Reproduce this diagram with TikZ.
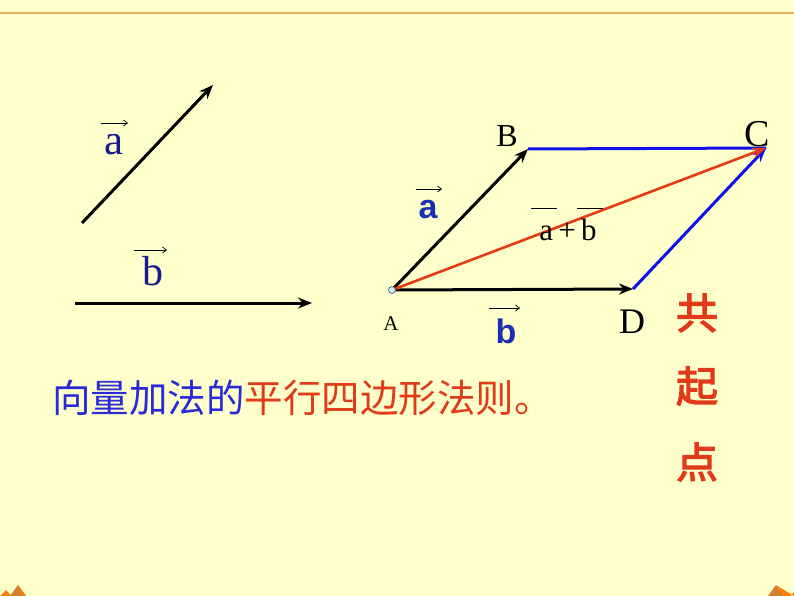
\documentclass[tikz,border=0pt]{standalone}
\usepackage{fontspec}
\setmainfont{Liberation Serif}
\newfontfamily\sansb{Liberation Sans}
\newfontfamily\cjk{Noto Sans CJK SC}
\newfontfamily\cjkb[FakeBold=3]{Noto Sans CJK SC}
\usetikzlibrary{arrows.meta}
\definecolor{bg}{HTML}{FFFFCC}
\definecolor{topline}{HTML}{F0B060}
\definecolor{vblue}{HTML}{1A1A90}
\definecolor{bblue}{HTML}{1830B0}
\definecolor{lblue}{HTML}{1010E8}
\definecolor{vred}{HTML}{E83A10}
\definecolor{tblue}{HTML}{2A2AD8}
\definecolor{tred}{HTML}{E03A18}
\begin{document}
\begin{tikzpicture}[x=1pt,y=-1pt,
  vec/.style={line width=3pt,-{Stealth[length=14pt,width=11pt]}},
  over/.style={line width=0.7pt,-{Straight Barb[length=4pt,width=6pt]}},
  lbl/.style={inner sep=0pt,anchor=base}]
\useasboundingbox (0,0) rectangle (794,596);
\fill[bg] (0,0) rectangle (794,596);
\draw[topline,line width=2pt] (0,13) -- (794,13);
% bottom corner ornaments
\fill[orange!80!brown] (0,596) -- (6,590) -- (12,596) -- cycle;
\fill[brown!70!orange] (10,596) -- (18,585) -- (26,596) -- cycle;
\fill[orange] (18,585) -- (26,596) -- (22,596) -- cycle;
\fill[brown!70!orange] (768,596) -- (776,585) -- (784,596) -- cycle;
\fill[orange] (776,585) -- (784,596) -- (790,596) -- (794,592) -- (794,596) -- cycle;

% left free vectors
\coordinate (a0) at (82,223); \coordinate (a1) at (213,85);
\coordinate (b0) at (75,303); \coordinate (b1) at (312,303);
\draw[vec] (a0) -- (a1);
\draw[vec] (b0) -- (b1);
\node[lbl,text=vblue,font=\fontsize{43}{45}\selectfont] (la) at (114,154) {a};
\coordinate (la0) at (101,123); \coordinate (la1) at (128,123);
\draw[over] (la0) -- (la1);
\node[lbl,text=vblue,font=\fontsize{42}{44}\selectfont] (lb) at (153,285) {b};
\coordinate (lb0) at (134,250); \coordinate (lb1) at (167,250);
\draw[over] (lb0) -- (lb1);

% parallelogram
\coordinate (A) at (392,290);
\coordinate (B) at (528,149);
\coordinate (C) at (766,148);
\coordinate (D) at (633,289);
\draw[lblue,line width=3pt] (B) -- (C);
\draw[vec,lblue] (D) -- (C);
\draw[vec] (A) -- (B);
\draw[vec] (A) -- (D);
\draw[vec,vred,line width=2.6pt] (A) -- (C);
\filldraw[fill=cyan!20,draw=black!70,line width=0.6pt] (A) circle (3.5pt);

\node[lbl,font=\fontsize{21}{22}\selectfont] (nA) at (391,330) {A};
\node[lbl,font=\fontsize{32}{34}\selectfont] (nB) at (507,147) {B};
\node[lbl,font=\fontsize{38}{40}\selectfont] (nC) at (757,147) {C};
\node[lbl,font=\fontsize{36}{38}\selectfont] (nD) at (632,333) {D};

\node[lbl,text=bblue,font=\sansb\bfseries\fontsize{34}{36}\selectfont] (ba) at (428,218) {a};
\coordinate (ba0) at (416,189); \coordinate (ba1) at (442,189);
\draw[over] (ba0) -- (ba1);
\node[lbl,text=bblue,font=\sansb\bfseries\fontsize{34}{36}\selectfont] (bb) at (506,343) {b};
\coordinate (bb0) at (489,308); \coordinate (bb1) at (520,308);
\draw[over] (bb0) -- (bb1);

\node[lbl,font=\fontsize{31}{33}\selectfont] (sum) at (568,240) {a\,+\,b};
\coordinate (s0) at (531,208); \coordinate (s1) at (557,208);
\coordinate (s2) at (577,208); \coordinate (s3) at (603,208);
\draw[line width=0.7pt] (s0) -- (s1);
\draw[line width=0.7pt] (s2) -- (s3);

% Chinese texts
\node[anchor=west,inner sep=0pt,font=\cjk\fontsize{38.5}{40}\selectfont] (rule) at (52,398)
  {\textcolor{tblue}{向量加法的}\textcolor{tred}{平行四边形法则。}};
\node[inner sep=0pt,text=tred,font=\cjkb\fontsize{42}{44}\selectfont] (g1) at (697,313) {共};
\node[inner sep=0pt,text=tred,font=\cjkb\fontsize{42}{44}\selectfont] (g2) at (697,386) {起};
\node[inner sep=0pt,text=tred,font=\cjkb\fontsize{42}{44}\selectfont] (g3) at (697,462) {点};
\end{tikzpicture}
\end{document}
